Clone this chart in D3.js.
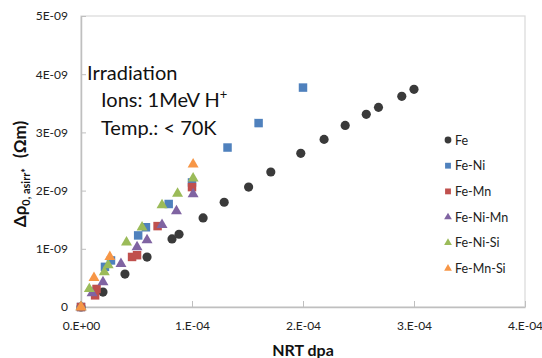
<!DOCTYPE html>
<html>
<head>
<meta charset="utf-8">
<script src="https://cdn.jsdelivr.net/npm/d3@7"></script>
<style>
  body { margin: 0; background: #fff; }
  svg { font-family: Lato, "Open Sans", sans-serif; }
</style>
</head>
<body>
<svg id="chart" width="542" height="358"></svg>
<script>
// values (x in dpa, y in Ohm m)
const seriesNames = ["Fe", "Fe-Ni", "Fe-Mn", "Fe-Ni-Mn", "Fe-Ni-Si", "Fe-Mn-Si"];
const seriesColors = ["#3a3a3a", "#4f81bd", "#c0504d", "#8064a2", "#9bbb59", "#f79646"];
const seriesShapes = ["circle", "square", "square", "triangle", "triangle", "triangle"];

const feX = [0, 0.198e-4, 0.396e-4, 0.595e-4, 0.82e-4, 0.883e-4, 1.10e-4, 1.29e-4, 1.51e-4, 1.71e-4, 1.98e-4, 2.19e-4, 2.38e-4, 2.57e-4, 2.68e-4, 2.89e-4, 3.0e-4];
const feY = [0, 0.257e-9, 0.566e-9, 0.858e-9, 1.17e-9, 1.25e-9, 1.53e-9, 1.80e-9, 2.06e-9, 2.32e-9, 2.64e-9, 2.88e-9, 3.12e-9, 3.31e-9, 3.43e-9, 3.62e-9, 3.74e-9];
const feNiX = [0, 0.216e-4, 0.27e-4, 0.515e-4, 0.585e-4, 0.79e-4, 1.0e-4, 1.32e-4, 1.6e-4, 2.0e-4];
const feNiY = [0, 0.69e-9, 0.80e-9, 1.23e-9, 1.37e-9, 1.77e-9, 2.14e-9, 2.74e-9, 3.16e-9, 3.77e-9];
const feMnX = [0, 0.127e-4, 0.14e-4, 0.46e-4, 0.505e-4, 0.69e-4, 1.0e-4];
const feMnY = [0, 0.20e-9, 0.31e-9, 0.86e-9, 0.89e-9, 1.39e-9, 2.06e-9];
const feNiMnX = [0, 0.10e-4, 0.198e-4, 0.36e-4, 0.505e-4, 0.595e-4, 0.73e-4, 0.86e-4, 1.01e-4];
const feNiMnY = [0, 0.24e-9, 0.43e-9, 0.74e-9, 1.03e-9, 1.15e-9, 1.41e-9, 1.65e-9, 1.94e-9];
const feNiSiX = [0, 0.075e-4, 0.21e-4, 0.245e-4, 0.41e-4, 0.55e-4, 0.73e-4, 0.87e-4, 1.01e-4];
const feNiSiY = [0, 0.31e-9, 0.60e-9, 0.72e-9, 1.11e-9, 1.37e-9, 1.75e-9, 1.95e-9, 2.21e-9];
const feMnSiX = [0, 0.117e-4, 0.26e-4, 1.01e-4];
const feMnSiY = [0, 0.50e-9, 0.86e-9, 2.45e-9];

const xTicks = [0, 1e-4, 2e-4, 3e-4, 4e-4];
const xTickLabels = ["0.E+00", "1.E-04", "2.E-04", "3.E-04", "4.E-04"];
const yTicks = [0, 1e-9, 2e-9, 3e-9, 4e-9, 5e-9];
const yTickLabels = ["0", "1E-09", "2E-09", "3E-09", "4E-09", "5E-09"];

const seriesX = [feX, feNiX, feMnX, feNiMnX, feNiSiX, feMnSiX];
const seriesY = [feY, feNiY, feMnY, feNiMnY, feNiSiY, feMnSiY];

const svg = d3.select("#chart");
const plotLeft = 81, plotRight = 525, plotTop = 16, plotBottom = 307;

const x = d3.scaleLinear().domain([0, 4e-4]).range([plotLeft, plotRight]);
const y = d3.scaleLinear().domain([0, 5e-9]).range([plotBottom, plotTop]);

// plot frame
svg.append("rect")
    .attr("x", plotLeft).attr("y", plotTop)
    .attr("width", plotRight - plotLeft).attr("height", plotBottom - plotTop)
    .attr("fill", "none").attr("stroke", "#d9d9d9").attr("stroke-width", 1.2);

const xAxis = svg.append("g")
    .attr("transform", `translate(0,${plotBottom})`)
    .call(d3.axisBottom(x).tickValues(xTicks).tickSizeInner(-6).tickSizeOuter(0)
        .tickFormat((d, i) => xTickLabels[i]));
xAxis.select(".domain").attr("stroke", "#bfbfbf").attr("stroke-width", 1.5);
xAxis.selectAll(".tick line").attr("stroke", "#bfbfbf");
xAxis.selectAll(".tick text")
    .attr("y", 14).attr("dy", "0.71em")
    .attr("fill", "#222").style("font-size", "12px").style("font-family", "Lato, sans-serif");

const yAxis = svg.append("g")
    .attr("transform", `translate(${plotLeft},0)`)
    .call(d3.axisLeft(y).tickValues(yTicks).tickSizeInner(-5).tickSizeOuter(0)
        .tickFormat((d, i) => yTickLabels[i]));
yAxis.select(".domain").attr("stroke", "#bfbfbf").attr("stroke-width", 1.5);
yAxis.selectAll(".tick line").attr("stroke", "#bfbfbf");
yAxis.selectAll(".tick text")
    .attr("x", -13)
    .attr("fill", "#222").style("font-size", "12px").style("font-family", "Lato, sans-serif");

// axis titles
svg.append("text")
    .attr("x", (plotLeft + plotRight) / 2).attr("y", 356)
    .attr("text-anchor", "middle")
    .attr("font-weight", "bold").attr("font-size", 16).attr("fill", "#111")
    .text("NRT dpa");

const yTitle = svg.append("text")
    .attr("transform", "translate(26,174) rotate(-90)")
    .attr("text-anchor", "middle")
    .attr("font-weight", "bold").attr("font-size", 17).attr("fill", "#111");
yTitle.append("tspan").text("Δρ");
yTitle.append("tspan").attr("font-size", 11).attr("dy", 4).text("0, asirr*");
yTitle.append("tspan").attr("dy", -4).attr("dx", 10).text("(Ωm)");

// annotation
const note = svg.append("g").attr("font-size", 20).attr("fill", "#111");
note.append("text").attr("x", 87).attr("y", 80).text("Irradiation");
const ions = note.append("text").attr("x", 101).attr("y", 107);
ions.append("tspan").text("Ions: 1MeV H");
ions.append("tspan").attr("font-size", 13).attr("dy", -8).text("+");
note.append("text").attr("x", 101).attr("y", 135).text("Temp.: < 70K");

const shapeOf = { circle: d3.symbolCircle, square: d3.symbolSquare, triangle: d3.symbolTriangle };
const bigSize = { circle: 66, square: 72, triangle: 52 };
const smallSize = { circle: 36, square: 34, triangle: 26 };

// points
seriesNames.forEach((name, s) => {
    const pts = seriesX[s].map((v, i) => [v, seriesY[s][i]]);
    svg.append("g").selectAll("path")
        .data(pts)
        .join("path")
        .attr("transform", d => `translate(${x(d[0])},${y(d[1])})`)
        .attr("d", d3.symbol(shapeOf[seriesShapes[s]], bigSize[seriesShapes[s]]))
        .attr("fill", seriesColors[s]);
});

// legend
const legend = svg.append("g").attr("transform", "translate(448,140)");
seriesNames.forEach((name, s) => {
    const row = legend.append("g").attr("transform", `translate(0,${s * 25.7})`);
    row.append("path")
        .attr("d", d3.symbol(shapeOf[seriesShapes[s]], smallSize[seriesShapes[s]]))
        .attr("fill", seriesColors[s]);
    row.append("text")
        .attr("x", 7).attr("y", 4.5)
        .attr("font-size", 12.5).attr("fill", "#222")
        .text(name);
});
</script>
</body>
</html>
